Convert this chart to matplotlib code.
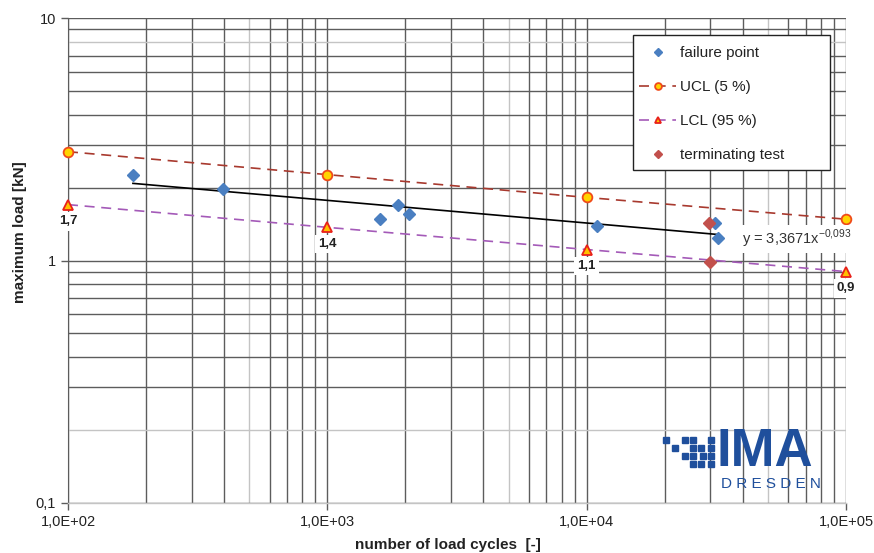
import numpy as np
import matplotlib.pyplot as plt
from matplotlib.patches import Rectangle
from matplotlib.ticker import FixedLocator, NullLocator

# failure points (load cycles, max load in kN)
fail_cycles = [178, 396, 1596, 1875, 2066, 10970, 31270, 32100]
fail_load = [2.26, 1.98, 1.49, 1.70, 1.55, 1.39, 1.43, 1.24]

# tests stopped before failure
term_cycles = [29650, 29900]
term_load = [1.43, 0.99]

# confidence limits
limit_cycles = [100, 1000, 10000, 100000]
ucl_load = [2.81, 2.26, 1.82, 1.48]
lcl_load = [1.70, 1.37, 1.11, 0.90]
lcl_labels = ["1,7", "1,4", "1,1", "0,9"]

# power trend line end points
trend_cycles = [178, 32100]
trend_load = [2.08, 1.28]
trend_text = "y = 3,3671x$^{\\mathregular{-0{,}093}}$"

x_ticks = [1e2, 1e3, 1e4, 1e5]
x_tick_labels = ["1,0E+02", "1,0E+03", "1,0E+04", "1,0E+05"]
y_ticks = [0.1, 1, 10]
y_tick_labels = ["0,1", "1", "10"]

plt.rcParams['font.family'] = ['Liberation Sans', 'DejaVu Sans']
plt.rcParams['axes.unicode_minus'] = False

fig = plt.figure(figsize=(8.74, 5.53), dpi=100)
ax = fig.add_axes([68 / 874, 1 - 503 / 553, 778 / 874, 485 / 553])
ax.set_xscale('log')
ax.set_yscale('log')
ax.set_xlim(1e2, 1e5)
ax.set_ylim(0.1, 10)

# grid drawn by hand, a few lines are lighter like in the original
dark = '#5c5c5c'
light = '#c4c4c4'
for dec in [1e2, 1e3, 1e4]:
    for m in range(1, 10):
        xv = dec * m
        ax.axvline(xv, color=light if m == 5 else dark, lw=1.0, zorder=0)
ax.axvline(1e5, color=dark, lw=1.0, zorder=0)
for dec in [0.1, 1]:
    for m in range(1, 10):
        yv = dec * m
        is_light = (dec == 0.1 and m == 2) or (dec == 1 and m == 8)
        ax.axhline(yv, color=light if is_light else dark, lw=1.0, zorder=0)
ax.axhline(10, color=dark, lw=1.0, zorder=0)

for side in ['top', 'right']:
    ax.spines[side].set_visible(False)
ax.spines['left'].set_color(dark)
ax.spines['bottom'].set_color(light)
ax.spines['bottom'].set_linewidth(1.0)

ax.xaxis.set_major_locator(FixedLocator(x_ticks))
ax.xaxis.set_minor_locator(NullLocator())
ax.set_xticklabels(x_tick_labels)
ax.yaxis.set_major_locator(FixedLocator(y_ticks))
ax.yaxis.set_minor_locator(NullLocator())
ax.set_yticklabels(y_tick_labels)
ax.tick_params(axis='both', length=5, width=1.0, color=dark, labelsize=10.5, labelcolor='#222222')
ax.tick_params(axis='x', pad=4)

# data
ax.plot(trend_cycles, trend_load, color='black', lw=1.2, zorder=3)
ax.plot(limit_cycles, ucl_load, ls=(0, (6, 4)), color='#a8392e', lw=1.2,
        marker='o', ms=7, mfc='#ffd400', mec='#f04a1a', mew=1.3, zorder=4,
        label='UCL (5 %)', clip_on=False)
ax.plot(limit_cycles, lcl_load, ls=(0, (6, 4)), color='#a45ab8', lw=1.2,
        marker='^', ms=7, mfc='#ffc000', mec='#e8201a', mew=1.3, zorder=4,
        label='LCL (95 %)', clip_on=False)
ax.plot(fail_cycles, fail_load, ls='none', marker='D', ms=6.5, color='#4a7fc1',
        zorder=5, label='failure point')
ax.plot(term_cycles, term_load, ls='none', marker='D', ms=6.5, color='#c2504c',
        zorder=5, label='terminating test')

for xv, yv, lab in zip(limit_cycles, lcl_load, lcl_labels):
    ax.annotate(lab, (xv, yv), xytext=(0, -12), textcoords='offset points',
                ha='center', va='center', fontsize=9.5, fontweight='bold',
                color='#222222', zorder=6, annotation_clip=False,
                bbox=dict(boxstyle='square,pad=0.25', fc='white', ec='none'))

ax.annotate(trend_text, (trend_cycles[1], trend_load[1]), xytext=(17, -3),
            textcoords='offset points', ha='left', va='center', fontsize=10.5,
            color='#333333', zorder=6,
            bbox=dict(boxstyle='square,pad=0.2', fc='white', ec='none'))

# legend frame is drawn separately, the original has a wide empty right margin
ax.add_patch(Rectangle((0.726, 0.687), 0.253, 0.278, transform=ax.transAxes,
                       fc='white', ec='#222222', lw=1.0, zorder=9))
handles, labels = ax.get_legend_handles_labels()
order = [2, 0, 1, 3]
leg = ax.legend([handles[i] for i in order], [labels[i] for i in order],
                loc='upper left', bbox_to_anchor=(0.7198, 0.965),
                frameon=False, fontsize=11, labelspacing=1.3,
                handlelength=2.4, handletextpad=0.25, borderpad=0.75,
                borderaxespad=0, markerscale=0.7)
leg.set_zorder(10)
for t in leg.get_texts():
    t.set_color('#222222')

ax.set_xlabel('number of load cycles  [-]', fontsize=11, fontweight='bold',
              color='#222222', family=['Liberation Sans Narrow', 'Liberation Sans'])
ax.set_ylabel('maximum load [kN]', fontsize=11, fontweight='bold',
              color='#222222', family=['Liberation Sans Narrow', 'Liberation Sans'])
ax.xaxis.set_label_coords(0.488, -0.072)
ax.yaxis.set_label_coords(-0.0527, 0.559)

# IMA Dresden logo
blue = '#1f4f9c'
squares = [(663, 437), (682, 437), (690, 437), (708, 437),
           (672, 445), (690, 445), (698, 445), (708, 445),
           (682, 453), (690, 453), (700, 453), (708, 453),
           (690, 461), (698, 461), (708, 461)]
for sx, sy in squares:
    fig.patches.append(Rectangle((sx / 874, 1 - (sy + 6) / 553), 6 / 874, 6 / 553,
                                 transform=fig.transFigure, color=blue, zorder=20))
fig.text(716 / 874, 1 - 452 / 553, 'IMA', fontsize=38, fontweight='bold',
         color=blue, ha='left', va='center', zorder=20)
fig.text(721 / 874, 1 - 484 / 553, 'D R E S D E N', fontsize=11,
         color=blue, ha='left', va='center', zorder=20)

fig.savefig('out.png', dpi=100)
